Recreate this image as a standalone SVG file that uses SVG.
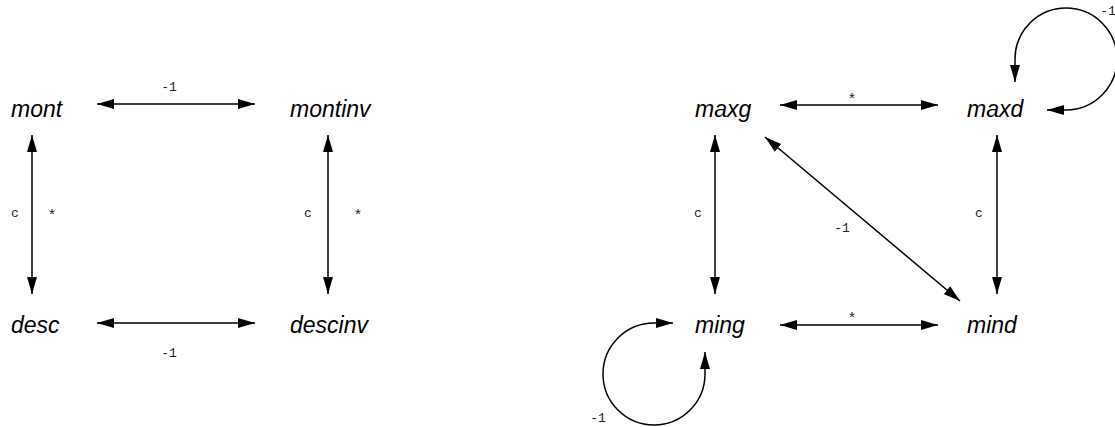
<svg xmlns="http://www.w3.org/2000/svg" width="1115" height="427" viewBox="0 0 1115 427">
<style>
.node{font-family:"Liberation Sans",Arial,sans-serif;font-style:italic;font-size:23px;fill:#000}
.lbl{font-family:"Liberation Mono","Courier New",monospace;font-size:13px;fill:#222}
.star{font-size:15px}
.edge{fill:none;stroke:#000;stroke-width:1.5;marker-end:url(#ah)}
.both{marker-start:url(#ah)}
</style>
<defs>
<marker id="ah" markerUnits="userSpaceOnUse" markerWidth="18" markerHeight="11" refX="17" refY="5" orient="auto-start-reverse" viewBox="0 0 18 11">
<path d="M0,0 L17,5 L0,10 z" fill="#000"/>
</marker>
</defs>
<g id="connectors">
<path class="edge both" d="M97,104 L255,104"/>
<path class="edge both" d="M97,323 L255,323"/>
<path class="edge both" d="M32,135 L32,294"/>
<path class="edge both" d="M328,135 L328,294"/>
<path class="edge both" d="M780,105 L938,105"/>
<path class="edge both" d="M780,325 L938,325"/>
<path class="edge both" d="M715,135 L715,294"/>
<path class="edge both" d="M997,135 L997,294"/>
<path class="edge both" d="M765,137 L960,301"/>
<path class="edge both" d="M1015,82 L1015,59 A51,51 0 1 1 1066,110 L1047,110"/>
<path class="edge both" d="M673,323 L654,323 A51,51 0 1 0 705,374 L705,352"/>
<text class="lbl" x="169" y="91" text-anchor="middle">-1</text>
<text class="lbl" x="169" y="357" text-anchor="middle">-1</text>
<text class="lbl" x="15" y="217" text-anchor="middle">c</text>
<text class="lbl star" x="52" y="220" text-anchor="middle">*</text>
<text class="lbl" x="308" y="217" text-anchor="middle">c</text>
<text class="lbl star" x="358" y="220" text-anchor="middle">*</text>
<text class="lbl star" x="852" y="104" text-anchor="middle">*</text>
<text class="lbl star" x="852" y="323" text-anchor="middle">*</text>
<text class="lbl" x="698" y="217" text-anchor="middle">c</text>
<text class="lbl" x="979" y="217" text-anchor="middle">c</text>
<text class="lbl" x="842" y="232" text-anchor="middle">-1</text>
<text class="lbl" x="598" y="422" text-anchor="middle">-1</text>
<text class="lbl" x="1108" y="15" text-anchor="middle">-1</text>
</g>
<g id="mont"><text class="node" x="11" y="117">mont</text></g>
<g id="montinv"><text class="node" x="290" y="117">montinv</text></g>
<g id="desc"><text class="node" x="11" y="333">desc</text></g>
<g id="descinv"><text class="node" x="290" y="333">descinv</text></g>
<g id="maxg"><text class="node" x="695" y="117">maxg</text></g>
<g id="maxd"><text class="node" x="967" y="117">maxd</text></g>
<g id="ming"><text class="node" x="695" y="333">ming</text></g>
<g id="mind"><text class="node" x="967" y="333">mind</text></g>
</svg>
